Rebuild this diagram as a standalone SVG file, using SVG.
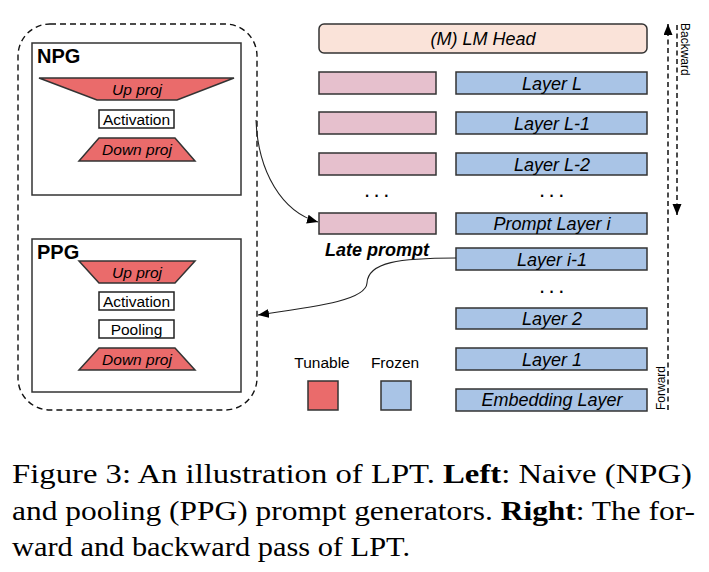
<svg xmlns="http://www.w3.org/2000/svg" width="709" height="572" viewBox="0 0 709 572">
<defs>
<style>
.sans{font-family:"Liberation Sans",Arial,sans-serif;fill:#000}
.lbl{font-family:"Liberation Sans",Arial,sans-serif;font-size:15.5px;text-anchor:middle;fill:#000}
.it{font-style:italic}
.lay{font-family:"Liberation Sans",Arial,sans-serif;font-size:18px;font-style:italic;text-anchor:middle;fill:#000}
.red{fill:#EA6B6B;stroke:#333;stroke-width:1.5}
.blue{fill:#A9C4E6;stroke:#333;stroke-width:1.5}
.pink{fill:#E6C0CD;stroke:#333;stroke-width:1.5}
.wbox{fill:#fff;stroke:#222;stroke-width:1.5}
.frame{fill:#fff;stroke:#333;stroke-width:1.5}
.conn{fill:none;stroke:#222;stroke-width:1.1}
.dash{fill:none;stroke:#111;stroke-width:1.5;stroke-dasharray:5 3.5}
.cap{font-family:"Liberation Serif","Times New Roman",serif;font-size:28px;fill:#000}
.dots{font-family:"Liberation Sans",Arial,sans-serif;font-size:22px;fill:#000;letter-spacing:3.5px}
</style>
<marker id="ah" markerWidth="12" markerHeight="10" refX="11" refY="4.5" orient="auto" markerUnits="userSpaceOnUse">
<path d="M0,0 L11,4.5 L0,9 z" fill="#000"/>
</marker>
</defs>

<g id="generators">
<rect x="18" y="24" width="239" height="386" rx="32" ry="32" fill="none" stroke="#111" stroke-width="1.4" stroke-dasharray="6 4"/>
</g>

<g id="npg">
<rect class="frame" x="32" y="43" width="209" height="152"/>
<text class="sans" x="37" y="63" font-size="20" font-weight="bold">NPG</text>
<polygon class="red" points="39,78 234,78 177,100 97,100"/>
<text class="lbl it" x="137" y="94.5">Up proj</text>
<rect class="wbox" x="99" y="110" width="75" height="18"/>
<text class="lbl" x="136.5" y="124.5">Activation</text>
<polygon class="red" points="99,138 175,138 195,161 79,161"/>
<text class="lbl it" x="137" y="155">Down proj</text>
</g>

<g id="ppg">
<rect class="frame" x="32" y="239" width="209" height="153"/>
<text class="sans" x="37" y="259" font-size="20" font-weight="bold">PPG</text>
<polygon class="red" points="79,261 195,261 175,283 99,283"/>
<text class="lbl it" x="137" y="277.5">Up proj</text>
<rect class="wbox" x="99" y="292" width="75" height="18"/>
<text class="lbl" x="136.5" y="306.5">Activation</text>
<rect class="wbox" x="99" y="320" width="75" height="18"/>
<text class="lbl" x="136.5" y="334.5">Pooling</text>
<polygon class="red" points="99,348 175,348 195,370 79,370"/>
<text class="lbl it" x="137" y="364.5">Down proj</text>
</g>

<g id="lm-head">
<rect x="319" y="24" width="328" height="29" rx="5" ry="5" fill="#FAE3D9" stroke="#333" stroke-width="1.5"/>
<text class="lay" x="483" y="45">(M) LM Head</text>
</g>

<g id="prompt-L"><rect class="pink" x="319" y="72" width="117" height="22"/></g>
<g id="prompt-L1"><rect class="pink" x="319" y="112" width="117" height="22"/></g>
<g id="prompt-L2"><rect class="pink" x="319" y="153" width="117" height="22"/></g>
<g id="late-prompt">
<rect class="pink" x="319" y="213" width="117" height="21"/>
<text class="sans" x="377" y="256" font-size="18" font-weight="bold" font-style="italic" text-anchor="middle">Late prompt</text>
</g>

<g id="layer-L"><rect class="blue" x="456" y="72" width="191" height="22"/><text class="lay" x="552" y="89.5">Layer L</text></g>
<g id="layer-L1"><rect class="blue" x="456" y="112" width="191" height="22"/><text class="lay" x="552" y="129.5">Layer L-1</text></g>
<g id="layer-L2"><rect class="blue" x="456" y="153" width="191" height="22"/><text class="lay" x="552" y="170.5">Layer L-2</text></g>
<g id="prompt-layer-i"><rect class="blue" x="456" y="213" width="191" height="21"/><text class="lay" x="552" y="230">Prompt Layer i</text></g>
<g id="layer-i1"><rect class="blue" x="456" y="248" width="191" height="22"/><text class="lay" x="552" y="265.5">Layer i-1</text></g>
<g id="layer-2"><rect class="blue" x="456" y="308" width="191" height="21"/><text class="lay" x="552" y="325">Layer 2</text></g>
<g id="layer-1"><rect class="blue" x="456" y="348" width="191" height="22"/><text class="lay" x="552" y="365.5">Layer 1</text></g>
<g id="embedding"><rect class="blue" x="456" y="389" width="191" height="22"/><text class="lay" x="552" y="406">Embedding Layer</text></g>

<g id="ellipses">
<text class="dots" x="364" y="197">...</text>
<text class="dots" x="539" y="197">...</text>
<text class="dots" x="539" y="293">...</text>
</g>

<g id="legend">
<text class="lbl" x="322" y="368">Tunable</text>
<rect class="red" x="308" y="381" width="30" height="29"/>
<text class="lbl" x="395" y="368">Frozen</text>
<rect class="blue" x="381" y="381" width="30" height="29"/>
</g>

<g id="connectors">
<path class="conn" d="M256,120 C258,172 282,212 318,222" marker-end="url(#ah)"/>
<path class="conn" d="M456,258 C400,258 368,262 367,283 C366,300 320,306 258,315" marker-end="url(#ah)"/>
<line class="dash" x1="668" y1="410" x2="668" y2="24" marker-end="url(#ah)"/>
<line class="dash" x1="677" y1="25" x2="677" y2="215" marker-end="url(#ah)"/>
</g>

<g id="pass-labels">
<text class="sans" font-size="12" transform="translate(681,23) rotate(90)">Backward</text>
<text class="sans" font-size="12" transform="translate(665,410) rotate(-90)">Forward</text>
</g>

<g id="caption">
<text class="cap" x="12" y="483" textLength="680" lengthAdjust="spacingAndGlyphs">Figure 3: An illustration of LPT. <tspan font-weight="bold">Left</tspan>: Naive (NPG)</text>
<text class="cap" x="12" y="520" textLength="683" lengthAdjust="spacingAndGlyphs">and pooling (PPG) prompt generators. <tspan font-weight="bold">Right</tspan>: The for-</text>
<text class="cap" x="12" y="556" textLength="398" lengthAdjust="spacingAndGlyphs">ward and backward pass of LPT.</text>
</g>
</svg>
